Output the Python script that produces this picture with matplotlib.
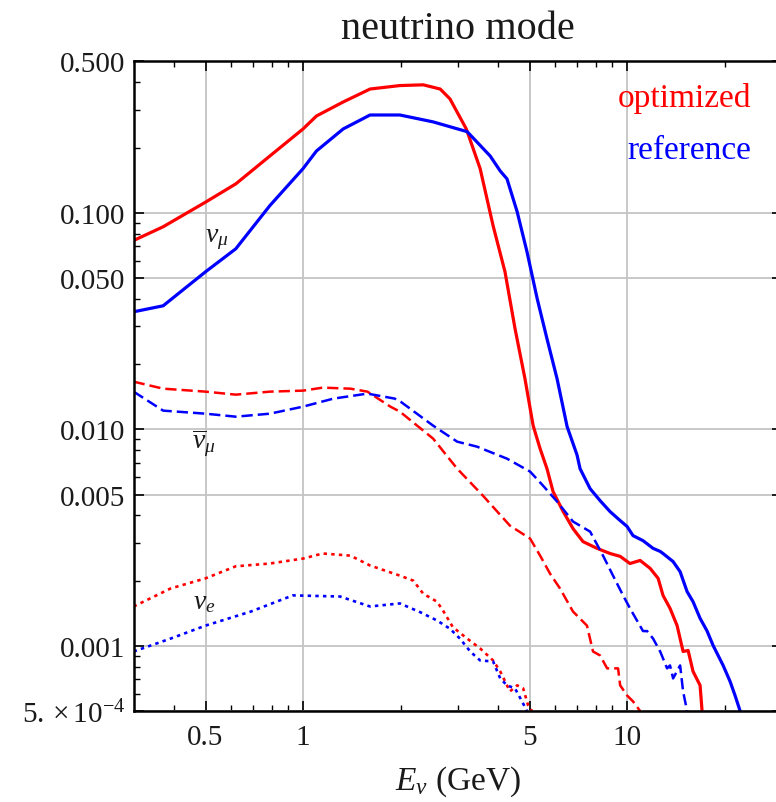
import matplotlib
matplotlib.use("Agg")
from matplotlib import pyplot as plt
from matplotlib.ticker import FixedLocator, NullFormatter

plt.rcParams['font.family'] = ['Liberation Serif', 'DejaVu Serif']
plt.rcParams['mathtext.fontset'] = 'custom'
plt.rcParams['mathtext.rm'] = 'Liberation Serif'
plt.rcParams['mathtext.it'] = 'Liberation Serif:italic'
plt.rcParams['mathtext.bf'] = 'Liberation Serif:bold'

# nu_mu, optimized (red solid)
e_numu_opt = [0.30, 0.37, 0.50, 0.62, 0.79, 1.00, 1.10, 1.33, 1.61, 1.99, 2.35, 2.65, 2.84, 3.19,
              3.52, 3.86, 4.20, 4.51, 4.84, 5.13, 5.39, 5.66, 5.91, 6.35, 6.81, 7.31, 8.08, 8.86,
              9.52, 10.21, 10.97, 11.78, 12.47, 12.91, 13.57, 14.27, 14.89, 15.43, 15.98, 16.80, 17.04]
f_numu_opt = [0.0745, 0.0862, 0.112, 0.136, 0.183, 0.244, 0.280, 0.325, 0.373, 0.387, 0.390, 0.373,
              0.336, 0.244, 0.160, 0.0871, 0.0534, 0.0292, 0.01714, 0.0104, 0.00814, 0.00658,
              0.00516, 0.00417, 0.00348, 0.00303, 0.00282, 0.00267, 0.00259, 0.00240, 0.00248,
              0.00228, 0.00205, 0.00171, 0.00149, 0.00124, 0.000942, 0.000952, 0.000762,
              0.000657, 0.000500]

# nu_mu, reference (blue solid)
e_numu_ref = [0.30, 0.37, 0.50, 0.62, 0.79, 1.00, 1.10, 1.33, 1.61, 1.99, 2.52, 3.21, 3.78, 4.06,
              4.26, 4.58, 4.91, 5.28, 5.66, 6.08, 6.53, 7.01, 7.16, 7.69, 8.25, 8.86, 9.52, 10.0,
              10.43, 11.20, 12.03, 12.65, 12.91, 13.87, 14.58, 15.32, 15.98, 16.80, 17.66, 18.43,
              19.79, 20.79, 21.54, 22.33]
f_numu_ref = [0.0349, 0.0372, 0.0534, 0.0682, 0.108, 0.160, 0.193, 0.244, 0.283, 0.283, 0.263,
              0.237, 0.183, 0.156, 0.1435, 0.101, 0.0661, 0.0401, 0.0262, 0.01714, 0.0103,
              0.00760, 0.00658, 0.00532, 0.00469, 0.00417, 0.00379, 0.00356, 0.00323, 0.00306,
              0.00282, 0.00273, 0.00267, 0.00245, 0.00220, 0.00178, 0.00160, 0.00134, 0.00117,
              0.001004, 0.000812, 0.000685, 0.000590, 0.000500]

# anti-nu_mu, optimized (red dashed)
e_anumu_opt = [0.30, 0.37, 0.50, 0.62, 0.79, 1.00, 1.15, 1.40, 1.58, 1.86, 1.99, 2.52, 2.99, 3.59,
               4.35, 5.02, 5.39, 5.79, 6.21, 6.81, 7.52, 7.85, 8.25, 8.68, 9.38, 9.52, 10.0, 10.43,
               10.97]
f_anumu_opt = [0.0166, 0.01541, 0.01493, 0.01446, 0.01493, 0.01509, 0.01558, 0.01541, 0.01493,
               0.01273, 0.01207, 0.00906, 0.00658, 0.00494, 0.00359, 0.00313, 0.00261, 0.00215,
               0.00184, 0.00144, 0.00124, 0.000942, 0.000903, 0.000787, 0.000787, 0.000657,
               0.000590, 0.000554, 0.000500]

# anti-nu_mu, reference (blue dashed)
e_anumu_ref = [0.30, 0.37, 0.50, 0.62, 0.79, 1.00, 1.24, 1.58, 1.92, 2.00, 2.52, 2.99, 3.44, 4.26,
               5.02, 5.50, 6.08, 6.81, 7.69, 8.43, 9.05, 9.72, 10.21, 11.20, 11.53, 12.03, 12.65,
               12.91, 13.29, 13.57, 13.87, 14.58, 14.89, 15.32]
f_anumu_ref = [0.01493, 0.01220, 0.01181, 0.01144, 0.01181, 0.01273, 0.01386, 0.01462, 0.01386,
               0.01342, 0.0104, 0.00877, 0.00832, 0.00732, 0.00638, 0.00550, 0.00464, 0.00375,
               0.00337, 0.00261, 0.00211, 0.00171, 0.00149, 0.00117, 0.00117, 0.00108, 0.000942,
               0.000875, 0.000787, 0.000812, 0.000707, 0.000812, 0.000616, 0.000500]

# nu_e, optimized (red dotted)
e_nue_opt = [0.30, 0.39, 0.50, 0.62, 0.79, 1.00, 1.15, 1.40, 1.61, 1.99, 2.19, 2.35, 2.59, 2.70,
             2.90, 3.21, 3.52, 3.86, 4.06, 4.35, 4.58, 4.78, 4.95, 5.09]
f_nue_opt = [0.00152, 0.00184, 0.00205, 0.00233, 0.00240, 0.00253, 0.00267, 0.00261, 0.00235,
             0.00211, 0.00200, 0.00174, 0.00160, 0.00146, 0.00122, 0.00108, 0.000973, 0.000856,
             0.000762, 0.000616, 0.000657, 0.000636, 0.000531, 0.000500]

# nu_e, reference (blue dotted)
e_nue_ref = [0.30, 0.39, 0.50, 0.69, 0.93, 1.30, 1.61, 1.99, 2.30, 2.59, 2.84, 3.05, 3.28, 3.52,
             3.86, 4.06, 4.26, 4.51, 4.74, 4.91]
f_nue_ref = [0.000942, 0.00108, 0.00124, 0.00144, 0.00171, 0.00169, 0.00152, 0.00157, 0.00143,
             0.00131, 0.00120, 0.00108, 0.000942, 0.000856, 0.000847, 0.000707, 0.000657,
             0.000636, 0.000554, 0.000500]

x_major = [0.5, 1, 5, 10]
x_major_labels = ['0.5', '1', '5', '10']
x_minor = [0.4, 0.6, 0.7, 0.8, 0.9, 2, 3, 4, 6, 7, 8, 9, 20]
y_major = [5e-4, 1e-3, 5e-3, 1e-2, 5e-2, 0.1, 0.5]
y_major_labels = [r'$5.\times10^{-4}$', '0.001', '0.005', '0.010', '0.050', '0.100', '0.500']
y_minor = [6e-4, 7e-4, 8e-4, 9e-4, 2e-3, 3e-3, 4e-3, 6e-3, 7e-3, 8e-3, 9e-3,
           0.02, 0.03, 0.04, 0.06, 0.07, 0.08, 0.09, 0.2, 0.3, 0.4]

rojo = '#ff0000'
azul = '#0000ff'
texto = '#1a1a1a'

fig = plt.figure(figsize=(7.76, 8.03), dpi=100)
ax = fig.add_axes([0.1722, 0.1133, 0.8351, 0.8089])
ax.set_xscale('log')
ax.set_yscale('log')
ax.set_xlim(0.3, 30)
ax.set_ylim(5e-4, 0.5)

ax.plot(e_numu_opt, f_numu_opt, color=rojo, linewidth=2.3, solid_joinstyle='round')
ax.plot(e_numu_ref, f_numu_ref, color=azul, linewidth=2.3, solid_joinstyle='round')
ax.plot(e_anumu_opt, f_anumu_opt, color=rojo, linewidth=1.8, linestyle=(0, (4.5, 2)))
ax.plot(e_anumu_ref, f_anumu_ref, color=azul, linewidth=1.8, linestyle=(0, (4.5, 2)))
ax.plot(e_nue_opt, f_nue_opt, color=rojo, linewidth=1.9, linestyle=(0, (1.3, 1.6)))
ax.plot(e_nue_ref, f_nue_ref, color=azul, linewidth=1.9, linestyle=(0, (1.3, 1.6)))

ax.xaxis.set_major_locator(FixedLocator(x_major))
ax.xaxis.set_minor_locator(FixedLocator(x_minor))
ax.set_xticklabels(x_major_labels)
ax.xaxis.set_minor_formatter(NullFormatter())
ax.yaxis.set_major_locator(FixedLocator(y_major))
ax.yaxis.set_minor_locator(FixedLocator(y_minor))
ax.set_yticklabels(y_major_labels)
ax.yaxis.set_minor_formatter(NullFormatter())

ax.tick_params(which='both', direction='in', top=True, right=True, colors='black',
               labelcolor=texto, labelsize=21)
ax.tick_params(which='major', length=7, width=1.2)
ax.tick_params(which='minor', length=4, width=1.0)
ax.tick_params(axis='x', which='major', pad=9)
ax.tick_params(axis='y', which='major', pad=6)

ax.grid(which='major', color='#c4c4c4', linewidth=1.3)
ax.set_axisbelow(True)
for lado in ax.spines.values():
    lado.set_linewidth(1.8)
    lado.set_color('black')

ax.set_title('neutrino mode', fontsize=29, color=texto, pad=17)
ax.set_xlabel(r'$E_\nu$ (GeV)', fontsize=24, color=texto, labelpad=10)

ax.text(0.9528, 0.9315, 'optimized', color=rojo, fontsize=24, ha='right', va='baseline',
        transform=ax.transAxes)
ax.text(0.9528, 0.8514, 'reference', color=azul, fontsize=24, ha='right', va='baseline',
        transform=ax.transAxes)

ax.text(0.543, 0.0759, r'$\nu_\mu$', fontsize=20, color=texto, ha='center', va='center')
ax.text(0.495, 0.0087, r'$\overline{\nu}_\mu$', fontsize=20, color=texto, ha='center', va='center')
ax.text(0.495, 0.0016, r'$\nu_e$', fontsize=20, color=texto, ha='center', va='center')

fig.savefig('out.png', dpi=100)
